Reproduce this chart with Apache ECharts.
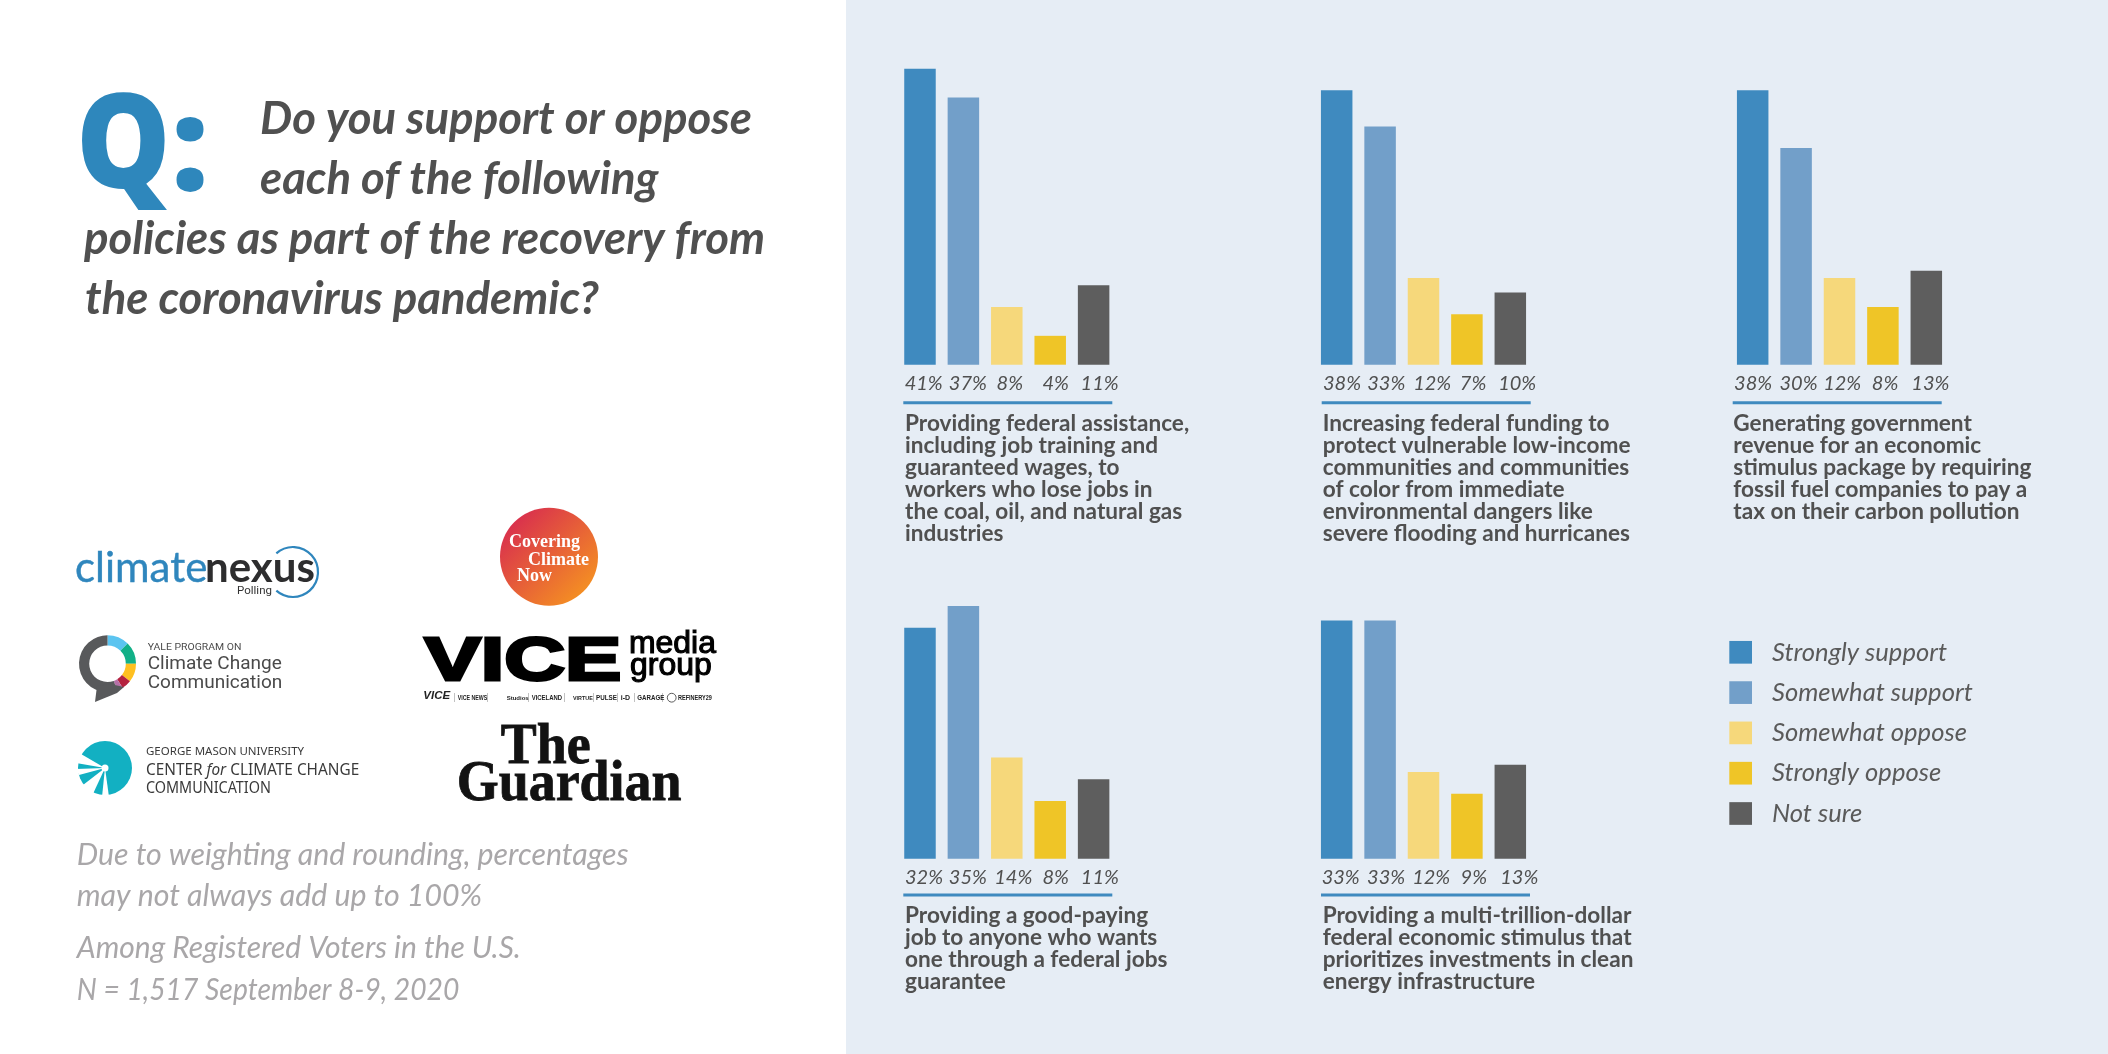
<!DOCTYPE html>
<html><head><meta charset="utf-8">
<style>html,body{margin:0;padding:0;background:#fff}#c{width:2108px;height:1054px}</style>
<script src="https://cdn.jsdelivr.net/npm/echarts@6/dist/echarts.min.js"></script>
</head><body><div id="c"></div>
<script>
const responses = ['Strongly support','Somewhat support','Somewhat oppose','Strongly oppose','Not sure'];
const stronglySupport = [41,38,38,32,33];
const somewhatSupport = [37,33,30,35,33];
const somewhatOppose  = [8,12,12,14,12];
const stronglyOppose  = [4,7,8,8,9];
const notSure         = [11,10,13,11,13];
const policies = [
 ['Providing federal assistance,','including job training and','guaranteed wages, to','workers who lose jobs in','the coal, oil, and natural gas','industries'],
 ['Increasing federal funding to','protect vulnerable low-income','communities and communities','of color from immediate','environmental dangers like','severe flooding and hurricanes'],
 ['Generating government','revenue for an economic','stimulus package by requiring','fossil fuel companies to pay a','tax on their carbon pollution'],
 ['Providing a good-paying','job to anyone who wants','one through a federal jobs','guarantee'],
 ['Providing a multi-trillion-dollar','federal economic stimulus that','prioritizes investments in clean','energy infrastructure']
];
const titleLines = ['Do you support or oppose','each of the following','policies as part of the recovery from','the coronavirus pandemic?'];
const footerLines = ['Due to weighting and rounding, percentages','may not always add up to 100%','Among Registered Voters in the U.S.','N = 1,517 September 8-9, 2020'];

const colors = ['#3f8abf','#729fc9','#f6d87b','#efc527','#5e5e5e'];
const valuesByResponse = [stronglySupport,somewhatSupport,somewhatOppose,stronglyOppose,notSure];
// layout
const gridLeft = [898.3,1315,1731,898.3,1315];
const baseY = [364.7,364.7,364.7,858.7,858.7];
const lineL = [903.3,1321.7,1732.7,903.3,1321];
const textL = [905,1322.7,1733.3,905,1322.7];
const labelShift = [[3.7,4.5,3,5.5,6],[5.3,6.2,8.7,6.2,6.9],[0.4,2.4,2.7,2.2,4.1],[4,4.5,6.5,5.5,6.3],[4,6,7.7,6.9,9]];
const PXPCT = 7.22, VMAX = 45;
const FONT = 'Lato';
const ink = '#505050';

const grids=[],xAxes=[],yAxes=[],series=[];
policies.forEach((p,i)=>{
  grids.push({left:gridLeft[i],width:217,top:baseY[i]-PXPCT*VMAX,height:PXPCT*VMAX});
  xAxes.push({type:'category',gridIndex:i,data:[''],show:false});
  yAxes.push({type:'value',gridIndex:i,min:0,max:VMAX,show:false});
  responses.forEach((r,k)=>{
    series.push({type:'bar',name:r,xAxisIndex:i,yAxisIndex:i,barWidth:31.5,barGap:'37.8%',
      itemStyle:{color:colors[k]},
      label:{show:true,position:'bottom',distance:9,fontFamily:FONT,fontStyle:'italic',fontSize:20,color:ink,formatter:'{c}%'},
      data:[{value:valuesByResponse[k][i],label:{offset:[labelShift[i][k],0]}}]});
  });
});

function T(text,x,base,size,o){o=o||{};
  return {type:'text',x:x,y:base-(o.k===undefined?0.34:o.k)*size,scaleX:o.sx||1,z:o.z||10,
    style:{text:text,x:0,y:0,fontSize:size,fontFamily:o.f||FONT,fontStyle:o.i?'italic':'normal',fontWeight:o.w||'normal',
      fill:o.c||ink,align:o.a||'left',verticalAlign:'middle',stroke:o.s||null,lineWidth:o.lw||0}};
}
const g=[];
g.push({type:'rect',shape:{x:846,y:0,width:1262,height:1054},style:{fill:'#e6edf5'},z:-10});
// question
g.push(T('Q',76,195,132,{f:'Open Sans',w:800,c:'#2e87bc',sx:0.9}));
g.push(T(':',171,197,132,{f:'Open Sans',w:800,c:'#2e87bc'}));
const tx=[260,260,84,85],ty=[135,195,255,315];
titleLines.forEach((t,i)=>g.push(T(t,tx[i],ty[i],45.5,{i:true,w:700})));
// underlines + descriptions
policies.forEach((p,i)=>{
  const uy=baseY[i]+(i<3?38:36.3);
  g.push({type:'rect',shape:{x:lineL[i],y:uy-1.5,width:209,height:3},style:{fill:'#3f8abf'}});
  const first=baseY[i]+(i<3?67:65);
  p.forEach((t,j)=>g.push(T(t,textL[i],first+22*j,22.6,{w:700})));
});
// footer
const fy=[866,907,958.7,1001],fsx=[1,1,0.99,0.934];
footerLines.forEach((t,i)=>g.push(T(t,76.7,fy[i],30.3,{i:true,c:'#a9a7a9',sx:fsx[i]})));
// climate nexus
g.push(T('climate',75,583,42,{c:'#2f86bd',s:'#2f86bd',lw:0.4}));
g.push(T('nexus',205,583,42,{c:'#2d2d2e',w:700}));
g.push({type:'arc',shape:{cx:293,cy:572,r:25,startAngle:-2.3,endAngle:2.3,clockwise:true},style:{stroke:'#2f86bd',fill:'none',lineWidth:2.2}});
g.push(T('Polling',237,595,11.5,{c:'#333',f:'Roboto'}));
// yale
const yc=[107.5,663.7],d=Math.PI/180;
[[-90,-45,'#5bc4f0'],[-45,0,'#12b087'],[0,38,'#ffc020'],[38,58,'#b5223f'],[58,70,'#b671a7'],[70,270,'#58595b']].forEach(s=>{
  g.push({type:'sector',shape:{cx:yc[0],cy:yc[1],r:28.5,r0:18.3,startAngle:s[0]*d,endAngle:s[1]*d,clockwise:true},style:{fill:s[2]}});
});
g.push({type:'polygon',shape:{points:[[97,686],[95,702],[117,693],[124,687],[110,684]]},style:{fill:'#58595b'}});
g.push(T('YALE PROGRAM ON',147.7,651,9.5,{f:'Roboto',c:'#4a4a4a',sx:1.1}));
g.push(T('Climate Change',147.7,670.5,19,{f:'Roboto',c:'#4a4a4a'}));
g.push(T('Communication',147.7,689.5,19,{f:'Roboto',c:'#4a4a4a'}));
// GMU
g.push({type:'circle',shape:{cx:105,cy:768,r:27},style:{fill:'#12b0c2'}});
[[[105,768],[81,754],[76,763]],[[105,768],[76,769],[79,775]],[[105,768],[83,785],[92,796]],[[105,768],[102,797],[109,797]]].forEach(p=>{
  g.push({type:'polygon',shape:{points:p},style:{fill:'#fff'}});
});
g.push({type:'circle',shape:{cx:105,cy:768,r:3.5},style:{fill:'#fff'}});
g.push(T('GEORGE MASON UNIVERSITY',146,756,10,{f:'Noto Sans',c:'#3a3a3a',sx:1.15}));
g.push({type:'text',x:146,y:770,scaleX:0.96,style:{text:'CENTER {i|for} CLIMATE CHANGE',x:0,y:0,fontSize:16,fontFamily:'Noto Sans',fill:'#3a3a3a',verticalAlign:'middle',rich:{i:{fontStyle:'italic',fontSize:16,fontFamily:'Noto Sans',fill:'#3a3a3a'}}}});
g.push(T('COMMUNICATION',146,794,16,{f:'Noto Sans',c:'#3a3a3a',sx:0.9}));
// Covering Climate Now
g.push({type:'circle',shape:{cx:549,cy:556.7,r:49},style:{fill:new echarts.graphic.LinearGradient(0,0,1,1,[{offset:0,color:'#d41f55'},{offset:1,color:'#f9a01b'}])}});
g.push(T('Covering',509,547,18,{f:'Liberation Serif',w:700,c:'#fff',k:.28}));
g.push(T('Climate',528,565,18,{f:'Liberation Serif',w:700,c:'#fff',k:.28}));
g.push(T('Now',517,581.7,18,{f:'Liberation Serif',w:700,c:'#fff',k:.28}));
// VICE
g.push(T('VICE',424.5,684,62,{f:'Liberation Sans',w:700,c:'#000',sx:1.36,s:'#000',lw:3}));
g.push(T('media',629,655,31,{f:'Liberation Sans',c:'#000',s:'#000',lw:1.1,sx:1.03}));
g.push(T('group',630,676.7,31,{f:'Liberation Sans',c:'#000',s:'#000',lw:1.1,sx:1.03}));
const subs=[['VICE',423.3,10,1.15,true],['VICE NEWS',457.7,7,.75],['Studios',506.7,6,1],['VICELAND',531.7,7,.85],['VIRTUE',573,6,.9],['PULSE',596,7,.9],['i-D',620.7,7,1],['GARAGE',637.3,6.5,.95],['REFINERY29',678,6.5,.85]];
subs.forEach(s=>g.push(T(s[0],s[1],700,s[2],{f:'Liberation Sans',w:700,c:'#222',sx:s[3],i:s[4]})));
[454,487,528,564,593,617,634,662].forEach(x=>g.push({type:'rect',shape:{x:x,y:693,width:0.6,height:9},style:{fill:'#999'}}));
g.push({type:'circle',shape:{cx:671.7,cy:697.7,r:4.4},style:{stroke:'#333',fill:'none',lineWidth:0.8}});
// Guardian
g.push(T('The',500.7,763,58,{f:'Liberation Serif',w:700,c:'#121212',s:'#121212',lw:0.8,k:.26,sx:.93}));
g.push(T('Guardian',456.7,800,58,{f:'Liberation Serif',w:700,c:'#121212',s:'#121212',lw:0.8,k:.26,sx:.93}));

const chart=echarts.init(document.getElementById('c'));
chart.setOption({animation:false,backgroundColor:'#ffffff',
  grid:grids,xAxis:xAxes,yAxis:yAxes,series:series,graphic:{elements:g},
  legend:{show:true,data:responses,left:1729.3,top:639.3,padding:0,orient:'vertical',icon:'rect',itemWidth:22.7,itemHeight:22.7,itemGap:14.3,selectedMode:false,
    textStyle:{fontFamily:FONT,fontStyle:'italic',fontSize:25.6,lineHeight:22,color:'#5a5a5a',padding:[0,0,0,15]}}
});
</script></body></html>
